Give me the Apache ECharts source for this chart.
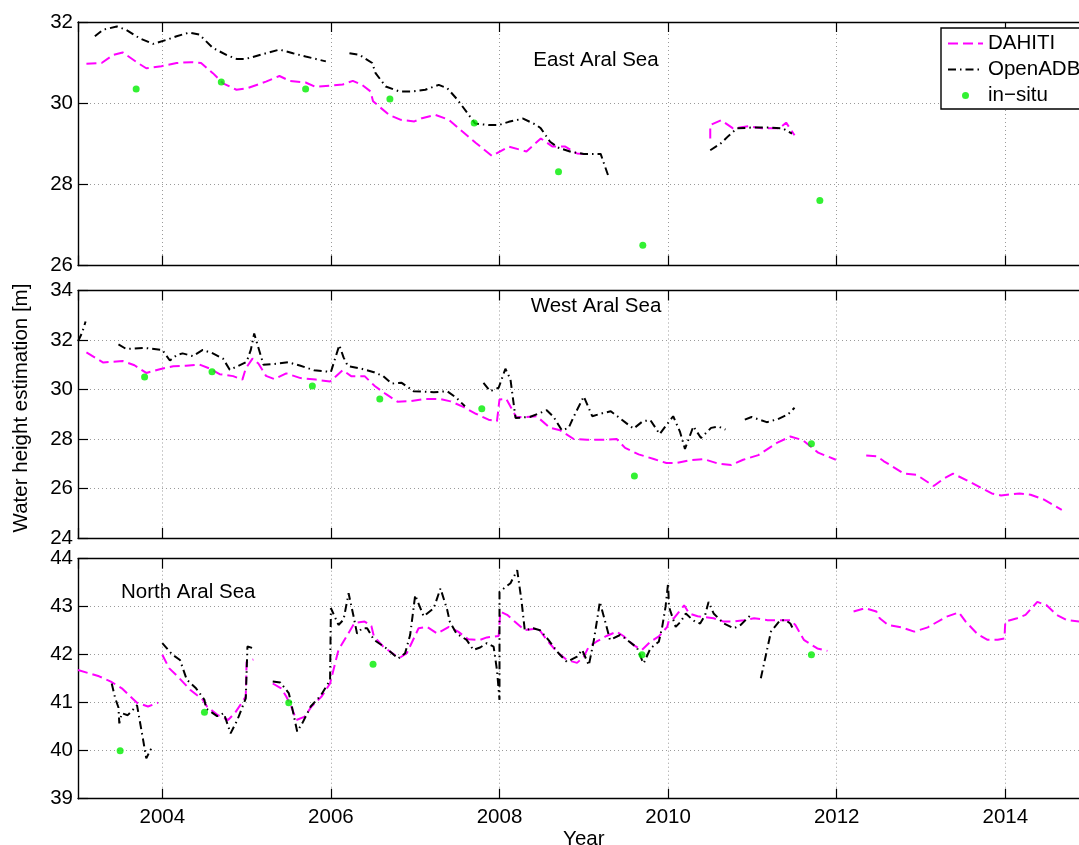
<!DOCTYPE html>
<html><head><meta charset="utf-8">
<script src="https://cdn.jsdelivr.net/npm/echarts@6/dist/echarts.min.js"></script>
<style>html,body{margin:0;padding:0;background:#fff}#c{width:1079px;height:845px}</style>
</head><body><div id="c"></div>
<script>
// ---------- DATA (year, water height in m); null = gap ----------
const panelNames = ['East Aral Sea', 'West Aral Sea', 'North Aral Sea'];
const legendNames = ['DAHITI', 'OpenADB', 'in\u2212situ'];
const xRange = [2003, 2015];
const yRanges = [[26, 32, 2], [24, 34, 2], [39, 44, 1]];

const eastDahiti = [[2003.10,30.97],[2003.28,30.99],[2003.42,31.19],[2003.53,31.25],[2003.71,30.99],[2003.81,30.86],[2003.99,30.91],[2004.17,30.99],[2004.34,31.01],[2004.46,30.99],[2004.60,30.74],[2004.72,30.49],[2004.88,30.33],[2005.01,30.37],[2005.23,30.53],[2005.39,30.67],[2005.51,30.55],[2005.70,30.51],[2005.82,30.40],[2005.98,30.43],[2006.14,30.46],[2006.26,30.55],[2006.37,30.45],[2006.47,30.29],[2006.50,30.05],[2006.56,29.94],[2006.69,29.71],[2006.83,29.59],[2006.99,29.55],[2007.08,29.63],[2007.24,29.71],[2007.40,29.59],[2007.56,29.30],[2007.72,29.02],[2007.91,28.70],[2008.11,28.93],[2008.32,28.81],[2008.49,29.13],[2008.63,28.93],[2008.78,28.93],[2008.92,28.76],[2009.0,28.75],null,[2010.50,29.13],[2010.50,29.46],[2010.63,29.58],[2010.77,29.38],[2010.95,29.43],[2011.11,29.38],[2011.32,29.38],[2011.40,29.52],[2011.50,29.21]];
const eastOpenADB = [[2003.20,31.65],[2003.30,31.81],[2003.46,31.89],[2003.57,31.81],[2003.73,31.60],[2003.89,31.46],[2004.05,31.56],[2004.17,31.65],[2004.32,31.74],[2004.44,31.69],[2004.60,31.36],[2004.76,31.19],[2004.88,31.09],[2004.99,31.09],[2005.23,31.23],[2005.39,31.32],[2005.55,31.23],[2005.70,31.15],[2005.94,31.03],null,[2006.22,31.23],[2006.34,31.19],[2006.49,30.99],[2006.53,30.74],[2006.65,30.41],[2006.81,30.29],[2006.97,30.29],[2007.12,30.33],[2007.28,30.45],[2007.38,30.37],[2007.50,30.09],[2007.71,29.50],[2007.87,29.46],[2007.99,29.46],[2008.11,29.54],[2008.28,29.62],[2008.44,29.46],[2008.49,29.38],[2008.60,29.05],[2008.70,28.90],[2008.85,28.80],[2009.0,28.75],[2009.20,28.75],[2009.30,28.15],null,[2010.50,28.84],[2010.62,29.0],[2010.72,29.2],[2010.82,29.38],[2011.0,29.4],[2011.2,29.4],[2011.36,29.38],[2011.47,29.25]];
const eastInSitu = [[2003.69,30.35],[2004.70,30.52],[2005.70,30.35],[2006.70,30.10],[2007.70,29.51],[2008.70,28.31],[2009.70,26.50],[2011.80,27.60]];

const westDahiti = [[2003.10,31.50],[2003.30,31.09],[2003.53,31.15],[2003.67,30.98],[2003.81,30.67],[2003.97,30.82],[2004.13,30.94],[2004.28,30.96],[2004.44,31.01],[2004.56,30.85],[2004.68,30.62],[2004.84,30.54],[2004.95,30.40],[2004.99,30.85],[2005.07,31.25],[2005.14,31.05],[2005.23,30.55],[2005.33,30.42],[2005.47,30.65],[2005.64,30.46],[2005.82,30.40],[2005.99,30.32],[2006.14,30.78],[2006.24,30.54],[2006.40,30.54],[2006.52,30.14],[2006.65,29.82],[2006.79,29.51],[2006.95,29.53],[2007.12,29.62],[2007.30,29.61],[2007.42,29.52],[2007.57,29.30],[2007.72,29.02],[2007.87,28.78],[2007.97,28.72],[2008.0,29.6],[2008.08,29.62],[2008.2,28.88],[2008.32,28.89],[2008.44,28.92],[2008.6,28.45],[2008.72,28.35],[2008.88,28.0],[2009.04,27.97],[2009.23,27.97],[2009.39,28.0],[2009.49,27.64],[2009.65,27.38],[2009.83,27.19],[2009.98,27.03],[2010.10,27.03],[2010.26,27.14],[2010.42,27.19],[2010.6,27.0],[2010.75,26.95],[2010.89,27.16],[2011.07,27.35],[2011.29,27.84],[2011.45,28.1],[2011.6,27.95],[2011.78,27.45],[2011.99,27.16],null,[2012.35,27.33],[2012.48,27.3],[2012.56,27.1],[2012.8,26.6],[2012.95,26.55],[2013.15,26.1],[2013.27,26.4],[2013.38,26.6],[2013.56,26.3],[2013.84,25.8],[2013.95,25.72],[2014.17,25.8],[2014.3,25.75],[2014.46,25.55],[2014.67,25.14]];
const westOpenADB = [[2003.0,31.95],[2003.05,32.3],[2003.09,32.75],null,[2003.48,31.82],[2003.57,31.64],[2003.79,31.68],[2004.0,31.6],[2004.09,31.17],[2004.17,31.39],[2004.24,31.46],[2004.36,31.35],[2004.48,31.6],[2004.6,31.46],[2004.72,31.25],[2004.8,30.8],[2004.88,30.92],[2005.0,31.12],[2005.05,31.6],[2005.09,32.26],[2005.2,31.0],[2005.32,31.03],[2005.49,31.1],[2005.63,30.97],[2005.8,30.78],[2006.0,30.71],[2006.1,31.79],[2006.15,31.3],[2006.2,30.95],[2006.35,30.85],[2006.51,30.7],[2006.62,30.54],[2006.72,30.24],[2006.84,30.27],[2006.98,29.93],[2007.22,29.89],[2007.38,29.93],[2007.49,29.66],[2007.59,29.32],null,[2007.81,30.27],[2007.89,29.93],[2007.99,30.07],[2008.07,30.84],[2008.13,30.41],[2008.19,28.85],[2008.36,28.89],[2008.56,29.16],[2008.64,28.9],[2008.74,28.35],[2008.82,28.45],[2008.88,28.9],[2009.0,29.72],[2009.1,28.92],[2009.23,29.05],[2009.32,29.12],[2009.5,28.65],[2009.59,28.42],[2009.7,28.72],[2009.79,28.76],[2009.9,28.2],[2010.06,28.92],[2010.14,28.3],[2010.2,27.6],[2010.3,28.51],[2010.39,28.04],[2010.51,28.45],[2010.6,28.5],[2010.68,28.38],null,[2010.91,28.78],[2010.99,28.89],[2011.17,28.68],[2011.3,28.8],[2011.42,28.99],[2011.5,29.26]];
const westInSitu = [[2003.79,30.51],[2004.59,30.72],[2005.78,30.14],[2006.58,29.62],[2007.79,29.22],[2009.60,26.51],[2011.70,27.81]];

const northDahiti = [[2003.0,41.68],[2003.25,41.55],[2003.39,41.44],[2003.52,41.30],[2003.62,41.13],[2003.70,41.0],[2003.83,40.92],[2003.95,41.0],null,[2004.0,42.0],[2004.08,41.72],[2004.18,41.55],[2004.33,41.27],[2004.48,41.06],[2004.53,40.92],[2004.66,40.74],[2004.78,40.64],[2004.86,40.78],[2004.94,40.99],[2004.99,41.13],[2005.0,41.85],[2005.08,41.9],null,[2005.31,41.40],[2005.41,41.30],[2005.47,41.13],[2005.53,40.92],[2005.59,40.64],[2005.69,40.71],[2005.77,40.92],[2005.89,41.13],[2005.99,41.40],[2006.09,42.10],[2006.28,42.66],[2006.40,42.69],[2006.48,42.60],[2006.51,42.38],[2006.62,42.17],[2006.76,41.99],[2006.82,41.94],[2006.90,42.03],[2007.04,42.55],[2007.14,42.58],[2007.26,42.44],[2007.40,42.58],[2007.51,42.48],[2007.63,42.32],[2007.77,42.31],[2007.85,42.36],[2007.99,42.39],[2008.01,42.9],[2008.09,42.83],[2008.30,42.51],[2008.46,42.55],[2008.56,42.31],[2008.68,42.06],[2008.80,41.89],[2008.92,41.83],[2009.0,41.96],[2009.06,42.17],[2009.15,42.27],[2009.27,42.39],[2009.39,42.48],[2009.47,42.39],[2009.59,42.2],[2009.69,42.10],[2009.79,42.27],[2009.89,42.38],[2009.99,42.58],[2010.01,42.72],[2010.07,42.76],[2010.19,43.03],[2010.25,42.86],[2010.35,42.8],[2010.54,42.76],[2010.66,42.69],[2010.78,42.69],[2010.90,42.72],[2011.02,42.76],[2011.18,42.72],[2011.33,42.72],[2011.45,42.72],[2011.51,42.62],[2011.61,42.31],[2011.77,42.13],[2011.89,42.08],null,[2012.20,42.9],[2012.34,42.97],[2012.47,42.9],[2012.51,42.76],[2012.61,42.62],[2012.77,42.57],[2012.92,42.48],[2013.08,42.57],[2013.30,42.79],[2013.45,42.88],[2013.53,42.69],[2013.67,42.43],[2013.79,42.31],[2013.91,42.31],[2013.99,42.34],[2014.0,42.69],[2014.14,42.76],[2014.24,42.83],[2014.38,43.10],[2014.49,43.03],[2014.61,42.83],[2014.73,42.72],[2014.89,42.69]];
const northOpenADB = [[2003.4,41.4],[2003.44,41.1],[2003.48,40.9],[2003.49,40.57],[2003.52,40.78],[2003.59,40.74],[2003.65,40.85],[2003.70,40.95],[2003.73,40.65],[2003.77,40.25],[2003.81,39.84],[2003.86,40.02],[2003.9,40.07],null,[2004.0,42.24],[2004.12,42.0],[2004.21,41.89],[2004.29,41.48],[2004.4,41.3],[2004.5,41.06],[2004.52,40.88],[2004.65,40.72],[2004.73,40.78],[2004.81,40.36],[2004.89,40.64],[2004.99,41.09],[2005.01,42.17],[2005.07,42.14],null,[2005.31,41.44],[2005.40,41.42],[2005.50,41.20],[2005.52,41.06],[2005.60,40.40],[2005.66,40.57],[2005.76,40.92],[2005.88,41.15],[2005.99,41.47],[2006.0,42.97],[2006.09,42.62],[2006.15,42.73],[2006.21,43.28],[2006.27,42.79],[2006.31,42.44],[2006.37,42.55],[2006.43,42.55],[2006.51,42.31],[2006.66,42.13],[2006.80,41.92],[2006.88,42.03],[2006.94,42.41],[2007.0,43.24],[2007.1,42.8],[2007.22,42.97],[2007.30,43.38],[2007.38,42.93],[2007.41,42.69],[2007.49,42.44],[2007.61,42.31],[2007.69,42.10],[2007.77,42.15],[2007.85,42.24],[2007.93,42.17],[2007.97,41.68],[2008.0,41.06],[2008.0,43.31],[2008.13,43.49],[2008.21,43.76],[2008.26,43.14],[2008.30,42.51],[2008.40,42.55],[2008.48,42.51],[2008.58,42.31],[2008.70,42.03],[2008.80,41.85],[2008.92,41.96],[2008.98,42.10],[2009.06,41.78],[2009.12,42.31],[2009.17,42.86],[2009.19,43.10],[2009.26,42.65],[2009.31,42.31],[2009.43,42.41],[2009.49,42.34],[2009.63,42.15],[2009.69,41.89],[2009.71,41.82],[2009.79,42.13],[2009.89,42.27],[2009.93,42.58],[2009.97,43.0],[2010.0,43.49],[2010.01,43.0],[2010.09,42.58],[2010.15,42.69],[2010.21,42.86],[2010.27,42.76],[2010.32,42.69],[2010.38,42.65],[2010.44,42.83],[2010.48,43.10],[2010.54,42.86],[2010.66,42.65],[2010.78,42.55],[2010.86,42.62],[2011.0,42.86],null,[2011.10,41.51],[2011.16,41.99],[2011.22,42.48],[2011.33,42.72],[2011.39,42.72],[2011.45,42.65],[2011.49,42.51]];
const northInSitu = [[2003.50,40.0],[2004.50,40.80],[2005.50,41.0],[2006.50,41.80],[2009.69,42.0],[2011.70,42.0]];

// ---------- CHART ----------
const FONT = '"Liberation Sans", Arial, Helvetica, sans-serif';
const FS = 20.5;
const grids = [
  {left: 78, top: 22, width: 1011.6, height: 243.5, outerBoundsMode: 'none', containLabel: false},
  {left: 78, top: 290.5, width: 1011.6, height: 247.5, outerBoundsMode: 'none', containLabel: false},
  {left: 78, top: 558.7, width: 1011.6, height: 240, outerBoundsMode: 'none', containLabel: false}
];
const gridLine = {show: true, lineStyle: {color: '#9a9a9a', width: 1, type: [1, 3]}};
const axLine = {show: true, onZero: false, lineStyle: {color: '#000', width: 1.4}};
const tick = {show: true, inside: true, length: 10, lineStyle: {color: '#000', width: 1.2}};

const xAxes = [], yAxes = [], series = [];
const sets = [
  [eastDahiti, eastOpenADB, eastInSitu],
  [westDahiti, westOpenADB, westInSitu],
  [northDahiti, northOpenADB, northInSitu]
];
const fix = arr => arr.map(p => p ? p : ['-', '-']);
grids.forEach((g, i) => {
  const last = i === 2;
  xAxes.push({
    type: 'value', gridIndex: i, position: 'bottom', min: xRange[0], max: xRange[1],
    axisLine: axLine, axisTick: tick, splitLine: gridLine,
    axisLabel: {show: last, margin: 8, color: '#000', fontSize: FS, fontFamily: FONT,
      showMinLabel: false, showMaxLabel: false, formatter: v => String(v)},
    name: last ? 'Year' : '', nameLocation: 'middle', nameGap: 27,
    nameTextStyle: {color: '#000', fontSize: FS, fontFamily: FONT}
  });
  xAxes.push({
    type: 'value', gridIndex: i, position: 'top', min: xRange[0], max: xRange[1],
    axisLine: axLine, axisTick: tick, splitLine: {show: false}, axisLabel: {show: false}
  });
  yAxes.push({
    type: 'value', gridIndex: i, position: 'left', min: yRanges[i][0], max: yRanges[i][1], interval: yRanges[i][2],
    axisLine: axLine, axisTick: tick, splitLine: gridLine,
    axisLabel: {margin: 5, color: '#000', fontSize: FS, fontFamily: FONT}
  });
  const [d, o, s] = sets[i];
  series.push({
    type: 'line', name: legendNames[0], xAxisIndex: i * 2, yAxisIndex: i, data: fix(d),
    symbol: 'none', showSymbol: false, animation: false, z: 3,
    lineStyle: {color: '#ff00ff', width: 2, type: [10, 5]}, itemStyle: {color: '#ff00ff'}
  });
  series.push({
    type: 'line', name: legendNames[1], xAxisIndex: i * 2, yAxisIndex: i, data: fix(o),
    symbol: 'none', showSymbol: false, animation: false, z: 4,
    lineStyle: {color: '#000', width: 2, type: [8, 4, 1.5, 4]}, itemStyle: {color: '#000'}
  });
  series.push({
    type: 'scatter', name: legendNames[2], xAxisIndex: i * 2, yAxisIndex: i, data: s,
    symbol: 'circle', symbolSize: 7, animation: false, z: 5,
    itemStyle: {color: '#00ee00'}
  });
});

const txt = {fill: '#000', font: FS + 'px ' + FONT};
const chart = echarts.init(document.getElementById('c'), null, {renderer: 'canvas'});
chart.setOption({
  backgroundColor: '#fff',
  animation: false,
  grid: grids,
  xAxis: xAxes,
  yAxis: yAxes,
  series: series,
  legend: {
    orient: 'vertical', left: 941, top: 28,
    data: [
      {name: legendNames[0], itemStyle: {opacity: 0}},
      {name: legendNames[1], itemStyle: {opacity: 0}},
      {name: legendNames[2], icon: 'circle'}
    ],
    itemWidth: 35, itemHeight: 7, itemGap: 5,
    padding: [5, 12, 3, 6],
    borderColor: '#000', borderWidth: 1.4, backgroundColor: '#fff',
    textStyle: {color: '#000', fontSize: FS, fontFamily: FONT, lineHeight: 20}
  },
  graphic: [
    {type: 'text', x: 596, y: 60, style: Object.assign({text: panelNames[0], align: 'center', verticalAlign: 'middle'}, txt)},
    {type: 'text', x: 596, y: 306, style: Object.assign({text: panelNames[1], align: 'center', verticalAlign: 'middle'}, txt)},
    {type: 'text', x: 121, y: 592, style: Object.assign({text: panelNames[2], align: 'left', verticalAlign: 'middle'}, txt)},
    {type: 'text', x: 21, y: 408, rotation: Math.PI / 2, style: Object.assign({text: 'Water height estimation [m]', align: 'center', verticalAlign: 'middle'}, txt)}
  ]
});
</script></body></html>
